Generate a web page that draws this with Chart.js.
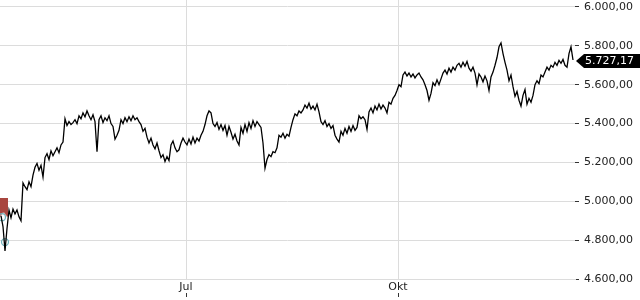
<!DOCTYPE html>
<html><head><meta charset="utf-8">
<script src="https://cdn.jsdelivr.net/npm/chart.js@4/dist/chart.umd.min.js"></script>
<style>html,body{margin:0;padding:0;background:#fff;}canvas{display:block;}</style>
</head><body>
<canvas id="c" width="640" height="300"></canvas>
<script>
// Index level samples (chronological, evenly spaced)
const values = [
4925,4870,4745,4860,4955,4915,4960,4935,4955,4920,
4900,5095,5075,5060,5100,5075,5135,5175,5195,5160,
5185,5125,5225,5245,5215,5260,5235,5255,5275,5250,
5290,5305,5425,5390,5410,5395,5405,5420,5400,5440,
5425,5455,5435,5465,5440,5420,5445,5410,5255,5420,
5440,5405,5430,5415,5440,5400,5385,5320,5340,5365,
5420,5400,5430,5410,5435,5415,5440,5420,5430,5410,
5395,5360,5375,5330,5300,5325,5290,5270,5300,5260,
5225,5240,5205,5230,5210,5290,5310,5275,5255,5265,
5300,5325,5305,5290,5320,5295,5330,5300,5325,5310,
5340,5360,5395,5440,5465,5455,5400,5385,5405,5370,
5395,5365,5390,5340,5385,5355,5320,5345,5310,5290,
5380,5350,5395,5360,5405,5375,5415,5385,5410,5395,
5380,5300,5170,5215,5240,5230,5255,5250,5275,5340,
5330,5350,5325,5345,5335,5380,5420,5450,5440,5465,
5455,5470,5495,5480,5505,5475,5490,5470,5500,5460,
5410,5395,5415,5385,5400,5375,5390,5340,5320,5305,
5360,5340,5375,5350,5385,5360,5390,5365,5380,5440,
5425,5435,5420,5370,5460,5480,5455,5490,5470,5500,
5475,5495,5480,5455,5510,5500,5530,5545,5570,5600,
5590,5650,5665,5645,5660,5640,5655,5635,5650,5660,
5640,5625,5600,5570,5520,5555,5610,5595,5625,5600,
5630,5660,5675,5655,5685,5665,5690,5675,5700,5710,
5690,5715,5695,5720,5685,5670,5690,5660,5600,5655,
5640,5615,5645,5620,5570,5640,5665,5700,5740,5795,
5815,5760,5715,5675,5620,5650,5590,5540,5565,5520,
5490,5545,5575,5500,5530,5510,5545,5600,5620,5605,
5650,5640,5665,5690,5675,5700,5690,5715,5700,5725,
5710,5730,5700,5690,5760,5795,5727.17
];
const lastValue = 5727.17;
const xTickLabels = ['Jul', 'Okt'];
const xTickIndex = [92.5, 198.5];
const yTickValues = [4600, 4800, 5000, 5200, 5400, 5600, 5800, 6000];
const flagEvents = [{x: 1.25, y: 4967}];
const circleEvents = [{x: 0.5, y: 4918}, {x: 2, y: 4790}];

function fmt(v) {
  const s = v.toFixed(2);
  const parts = s.split('.');
  return parts[0].replace(/\B(?=(\d{3})+(?!\d))/g, '.') + ',' + parts[1];
}

// Marker controller that does not reserve extra room around the plot
class EventsController extends Chart.ScatterController {
  getMaxOverflow() { return 0; }
}
EventsController.id = 'events';
EventsController.defaults = Chart.ScatterController.defaults;
EventsController.overrides = Chart.ScatterController.overrides;
Chart.register(EventsController);

const flagImg = document.createElement('canvas');
flagImg.width = 8; flagImg.height = 19;
(function(){
  const g = flagImg.getContext('2d');
  g.fillStyle = '#a8463f';
  g.beginPath();
  g.moveTo(0,0); g.lineTo(8,0); g.lineTo(8,19); g.lineTo(4,14); g.lineTo(0,19); g.closePath();
  g.fill();
})();

const FONT = {family: '"DejaVu Sans", sans-serif', size: 11};

const tagPlugin = {
  id: 'tag',
  afterDraw(chart) {
    const ctx = chart.ctx, ys = chart.scales.y, xs = chart.scales.x;
    const y = Math.round(ys.getPixelForValue(lastValue)) + 1;
    const x0 = chart.chartArea.right;
    ctx.save();
    ctx.fillStyle = '#000';
    ctx.beginPath();
    ctx.moveTo(x0 + 1, y);
    ctx.lineTo(x0 + 9, y - 7);
    ctx.lineTo(640, y - 7);
    ctx.lineTo(640, y + 7);
    ctx.lineTo(x0 + 9, y + 7);
    ctx.closePath();
    ctx.fill();
    ctx.fillStyle = '#fff';
    ctx.font = '11px "DejaVu Sans"';
    ctx.textAlign = 'left';
    ctx.textBaseline = 'middle';
    ctx.fillText(fmt(lastValue), x0 + 10, y + 0.5);
    ctx.strokeStyle = '#333';
    ctx.lineWidth = 1;
    xTickIndex.forEach(v => {
      const px = Math.round(xs.getPixelForValue(v)) + 0.5;
      ctx.beginPath(); ctx.moveTo(px, 293); ctx.lineTo(px, 297); ctx.stroke();
    });
    ctx.restore();
  }
};

new Chart(document.getElementById('c'), {
  type: 'line',
  data: {
    datasets: [
      {
        data: values.map((v, i) => ({x: i, y: v})),
        borderColor: '#000', borderWidth: 1.3, pointRadius: 0, pointHoverRadius: 0, tension: 0, order: 0
      },
      {
        type: 'events', data: circleEvents, pointStyle: 'circle', pointRadius: 3.5, pointHoverRadius: 3.5,
        borderColor: '#72b4bd', borderWidth: 1.3, backgroundColor: 'rgba(0,0,0,0)', order: 1
      },
      {
        type: 'events', data: flagEvents, pointStyle: flagImg, order: 2
      }
    ]
  },
  options: {
    responsive: false, animation: false, devicePixelRatio: 1,
    layout: {padding: 0},
    plugins: {legend: {display: false}, tooltip: {enabled: false}},
    scales: {
      x: {
        type: 'linear', min: -0.5, max: 287,
        afterBuildTicks: s => { s.ticks = xTickIndex.map(v => ({value: v})); },
        afterFit: s => { s.height = 21; s.paddingLeft = 0; s.paddingRight = 0; s.paddingTop = 0; s.paddingBottom = 0; },
        grid: {color: '#dcdcdc', drawTicks: false},
        border: {color: '#dcdcdc'},
        ticks: {
          autoSkip: false, maxRotation: 0, padding: 2, color: '#222', font: FONT,
          callback: v => { const k = xTickIndex.indexOf(v); return k >= 0 ? xTickLabels[k] : ''; }
        }
      },
      y: {
        position: 'right', min: 4600, max: 6036,
        afterBuildTicks: s => { s.ticks = yTickValues.map(v => ({value: v})); },
        afterFit: s => { s.width = 65; s.paddingLeft = 0; s.paddingRight = 0; s.paddingTop = 0; s.paddingBottom = 0; },
        grid: {color: '#dcdcdc', tickColor: '#333', tickLength: 4},
        border: {display: false},
        ticks: {padding: 5, color: '#222', font: FONT, callback: v => fmt(v)}
      }
    }
  },
  plugins: [tagPlugin]
});
</script>
</body></html>
